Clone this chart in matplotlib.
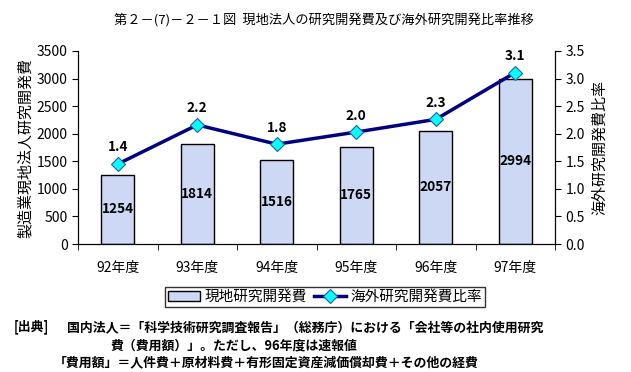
import matplotlib
matplotlib.use("Agg")
import matplotlib.pyplot as plt
import numpy as np

plt.rcParams['font.family'] = ['Noto Sans CJK JP', 'DejaVu Sans']

years = ["92年度", "93年度", "94年度", "95年度", "96年度", "97年度"]
rd_cost = [1254, 1814, 1516, 1765, 2057, 2994]
overseas_ratio = [1.45, 2.16, 1.81, 2.03, 2.26, 3.11]
ratio_labels = ["1.4", "2.2", "1.8", "2.0", "2.3", "3.1"]

fig = plt.figure(figsize=(6.31, 3.72), dpi=100)
ax = fig.add_axes([78/631, 1-244/372, (555-78)/631, (244-51)/372])
x = np.arange(len(years))

bars = ax.bar(x, rd_cost, width=0.42, color='#ccd8f4', edgecolor='black', linewidth=1.0, zorder=2)
for xi, v in zip(x, rd_cost):
    ax.text(xi, v/2, f"{v}", ha='center', va='center', fontsize=9.8, fontweight='bold', zorder=5)

ax.set_xlim(-0.5, len(years)-0.5)
ax.set_ylim(0, 3500)
ax.set_yticks(np.arange(0, 3501, 500))
ax.set_xticks(x)
ax.set_xticklabels(years, fontsize=10)
ax.set_xticks(np.arange(-0.5, len(years), 1), minor=True)
ax.tick_params(axis='x', which='major', length=0, pad=12)
ax.tick_params(axis='x', which='minor', length=4, direction='out')
ax.tick_params(axis='y', labelsize=10, length=4, direction='out')
ax.spines['top'].set_visible(False)
ax.set_ylabel("製造業現地法人研究開発費", fontsize=10.8, labelpad=3)

ax2 = ax.twinx()
ax2.set_ylim(0, 3.5)
ax2.set_yticks(np.arange(0, 3.51, 0.5))
ax2.set_yticklabels([f"{t:.1f}" for t in np.arange(0, 3.51, 0.5)])
ax2.tick_params(axis='y', labelsize=10, length=4, direction='out')
ax2.spines['top'].set_visible(False)
line, = ax2.plot(x, overseas_ratio, color='#000080', linewidth=2.5,
                 marker='D', markersize=7, markerfacecolor='#00ffff',
                 markeredgecolor='#2060a0', markeredgewidth=0.8, zorder=4)
for xi, v, lab in zip(x, overseas_ratio, ratio_labels):
    ax2.text(xi, v + 0.3, lab, ha='center', va='center', fontsize=9.8, fontweight='bold')
ax2.set_ylabel("海外研究開発費比率", fontsize=10.8, rotation=90, labelpad=6)

fig.text(324/631, 1-20/372, "第２－(7)－２－１図  現地法人の研究開発費及び海外研究開発比率推移",
         ha='center', va='center', fontsize=9.5)

leg = fig.legend([bars, line], ["現地研究開発費", "海外研究開発費比率"],
                 loc='center', bbox_to_anchor=(325/631, 1-297/372), ncol=2,
                 fontsize=10.5, frameon=True, fancybox=False, edgecolor='black',
                 handlelength=2.2, handletextpad=0.3, columnspacing=0.5,
                 borderpad=0.2)
leg.get_frame().set_linewidth(1.0)

fs = 9.3
fig.text(14/631, 1-327/372, "[出典]", fontsize=fs, fontweight='bold', va='center')
fig.text(67/631, 1-327/372, "国内法人＝「科学技術研究調査報告」（総務庁）における「会社等の社内使用研究",
         fontsize=fs, fontweight='bold', va='center')
fig.text(110/631, 1-345/372, "費（費用額）」。ただし、96年度は速報値",
         fontsize=fs, fontweight='bold', va='center')
fig.text(54/631, 1-362/372, "「費用額」＝人件費＋原材料費＋有形固定資産減価償却費＋その他の経費",
         fontsize=fs, fontweight='bold', va='center')

fig.savefig("out.png", dpi=100)
